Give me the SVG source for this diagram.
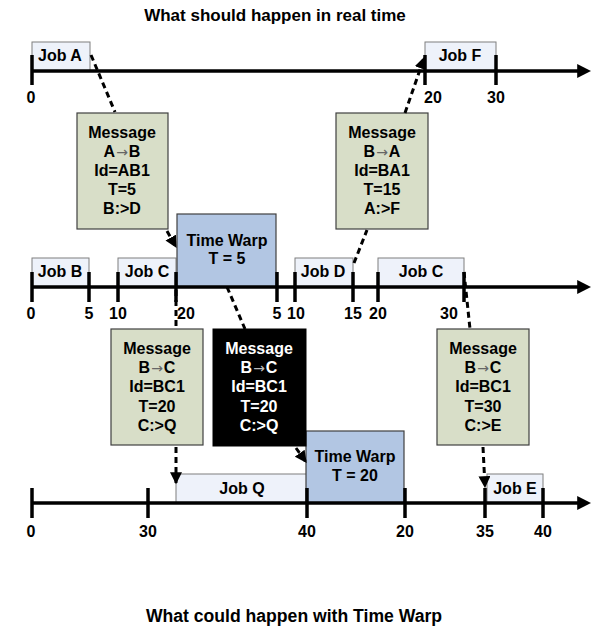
<svg xmlns="http://www.w3.org/2000/svg" width="592" height="630" viewBox="0 0 592 630">
<style>
text{font-family:"Liberation Sans",Arial,sans-serif;font-weight:bold;font-size:16px;text-anchor:middle;fill:#000}
.title{font-size:17px}
.job{fill:#EEF2FA;stroke:#7F7F7F;stroke-width:1}
.msg{fill:#D8DEC8;stroke:#404040;stroke-width:1.2}
.blk{fill:#000;stroke:#000}
.tw{fill:#B2C6E3;stroke:#404040;stroke-width:1.2}
.axis{stroke:#000;stroke-width:3.5;fill:none}
.tick{stroke:#000;stroke-width:3.5}
.dash{stroke:#000;stroke-width:3;stroke-dasharray:6 4;fill:none}
.arr{font-family:"DejaVu Sans",sans-serif;font-size:14px;font-weight:normal;fill:#666}
.wt{fill:#fff}
.arw{font-family:"DejaVu Sans",sans-serif;font-size:14px;font-weight:normal;fill:#bbb}
</style>
<defs>
<marker id="ah" viewBox="0 0 10 10" refX="9" refY="5" markerWidth="4" markerHeight="4" orient="auto" markerUnits="strokeWidth">
<path d="M0,0 L10,5 L0,10 z" fill="#000"/>
</marker>
<marker id="axh" viewBox="0 0 10 10" refX="2" refY="5" markerWidth="4" markerHeight="4.4" orient="auto" markerUnits="strokeWidth">
<path d="M0,0 L10,5 L0,10 z" fill="#000"/>
</marker>
</defs>

<text class="title" x="275" y="21">What should happen in real time</text>
<text class="title" x="294" y="622" style="font-size:17.6px">What could happen with Time Warp</text>

<g id="jobA"><rect class="job" x="32" y="42" width="58" height="29"/><text x="60" y="61">Job A</text></g>
<g id="jobF"><rect class="job" x="425" y="42" width="71" height="29"/><text x="460" y="61">Job F</text></g>
<g id="jobB"><rect class="job" x="32" y="258" width="57" height="29"/><text x="60" y="277">Job B</text></g>
<g id="jobC1"><rect class="job" x="118" y="258" width="58" height="29"/><text x="147" y="277">Job C</text></g>
<g id="tw5"><rect class="tw" x="177" y="214" width="99" height="73"/><text x="227" y="246">Time Warp</text><text x="227" y="264">T = 5</text></g>
<g id="jobD"><rect class="job" x="295" y="258" width="58" height="29"/><text x="323" y="277">Job D</text></g>
<g id="jobC2"><rect class="job" x="378" y="258" width="86" height="29"/><text x="421" y="277">Job C</text></g>
<g id="jobQ"><rect class="job" x="176" y="474" width="131" height="29"/><text x="242" y="494">Job Q</text></g>
<g id="tw20"><rect class="tw" x="306" y="431" width="98" height="72"/><text x="355" y="462">Time Warp</text><text x="355" y="481">T = 20</text></g>
<g id="jobE"><rect class="job" x="487" y="474" width="56" height="29"/><text x="515" y="494">Job E</text></g>

<g id="msgAB"><rect class="msg" x="77" y="113" width="91" height="116"/>
<text x="122" y="138">Message</text><text x="122" y="157">A<tspan class="arr" dx="1">→</tspan><tspan dx="1">B</tspan></text><text x="122" y="176">Id=AB1</text><text x="122" y="195">T=5</text><text x="122" y="214">B:&gt;D</text></g>
<g id="msgBA"><rect class="msg" x="336" y="113" width="92" height="116"/>
<text x="382" y="138">Message</text><text x="382" y="157">B<tspan class="arr" dx="1">→</tspan><tspan dx="1">A</tspan></text><text x="382" y="176">Id=BA1</text><text x="382" y="195">T=15</text><text x="382" y="214">A:&gt;F</text></g>
<g id="msgBC20"><rect class="msg" x="111" y="329" width="92" height="116"/>
<text x="157" y="354">Message</text><text x="157" y="373">B<tspan class="arr" dx="1">→</tspan><tspan dx="1">C</tspan></text><text x="157" y="392">Id=BC1</text><text x="157" y="412">T=20</text><text x="157" y="431">C:&gt;Q</text></g>
<g id="msgBC20anti"><rect class="blk" x="213" y="329" width="93" height="117"/>
<text class="wt" x="259" y="354">Message</text><text class="wt" x="259" y="373">B<tspan class="arw" dx="1">→</tspan><tspan dx="1">C</tspan></text><text class="wt" x="259" y="392">Id=BC1</text><text class="wt" x="259" y="412">T=20</text><text class="wt" x="259" y="431">C:&gt;Q</text></g>
<g id="msgBC30"><rect class="msg" x="437" y="329" width="92" height="116"/>
<text x="483" y="354">Message</text><text x="483" y="373">B<tspan class="arr" dx="1">→</tspan><tspan dx="1">C</tspan></text><text x="483" y="392">Id=BC1</text><text x="483" y="412">T=30</text><text x="483" y="431">C:&gt;E</text></g>

<g id="axes">
<line class="axis" x1="32" y1="71" x2="580" y2="71" marker-end="url(#axh)"/>
<line class="tick" x1="32" y1="55" x2="32" y2="85"/>
<line class="tick" x1="425" y1="55" x2="425" y2="85"/>
<line class="tick" x1="496" y1="55" x2="496" y2="85"/>
<text x="31" y="103">0</text><text x="433" y="103">20</text><text x="496" y="103">30</text>

<line class="axis" x1="32" y1="287" x2="580" y2="287" marker-end="url(#axh)"/>
<line class="tick" x1="32" y1="272" x2="32" y2="302"/>
<line class="tick" x1="89" y1="272" x2="89" y2="302"/>
<line class="tick" x1="118" y1="272" x2="118" y2="302"/>
<line class="tick" x1="176" y1="272" x2="176" y2="302"/>
<line class="tick" x1="277" y1="272" x2="277" y2="302"/>
<line class="tick" x1="295" y1="272" x2="295" y2="302"/>
<line class="tick" x1="353" y1="272" x2="353" y2="302"/>
<line class="tick" x1="378" y1="272" x2="378" y2="302"/>
<line class="tick" x1="464" y1="272" x2="464" y2="302"/>
<text x="31" y="319">0</text><text x="89" y="319">5</text><text x="118" y="319">10</text><text x="186" y="319">20</text><text x="277" y="319">5</text><text x="296" y="319">10</text><text x="353" y="319">15</text><text x="378" y="319">20</text><text x="449" y="319">30</text>

<line class="axis" x1="32" y1="503" x2="580" y2="503" marker-end="url(#axh)"/>
<line class="tick" x1="32" y1="488" x2="32" y2="518"/>
<line class="tick" x1="148" y1="488" x2="148" y2="518"/>
<line class="tick" x1="307" y1="488" x2="307" y2="518"/>
<line class="tick" x1="405" y1="488" x2="405" y2="518"/>
<line class="tick" x1="485" y1="488" x2="485" y2="518"/>
<line class="tick" x1="543" y1="488" x2="543" y2="518"/>
<text x="31" y="537">0</text><text x="148" y="537">30</text><text x="307" y="537">40</text><text x="405" y="537">20</text><text x="485" y="537">35</text><text x="543" y="537">40</text>
</g>

<g id="connectors">
<line class="dash" x1="91" y1="55" x2="115" y2="112"/>
<line class="dash" x1="167" y1="231" x2="176" y2="247" marker-end="url(#ah)"/>
<line class="dash" x1="354" y1="263" x2="367" y2="230"/>
<line class="dash" x1="405" y1="113" x2="424" y2="58" marker-end="url(#ah)"/>
<line class="dash" x1="176" y1="290" x2="176" y2="329"/>
<line class="dash" x1="227" y1="287" x2="245" y2="329"/>
<line class="dash" x1="464" y1="272" x2="470" y2="329"/>
<line class="dash" x1="176" y1="447" x2="176" y2="483" marker-end="url(#ah)"/>
<line class="dash" x1="296" y1="448" x2="306" y2="462" marker-end="url(#ah)"/>
<line class="dash" x1="483" y1="447" x2="485" y2="487" marker-end="url(#ah)"/>
</g>
</svg>
